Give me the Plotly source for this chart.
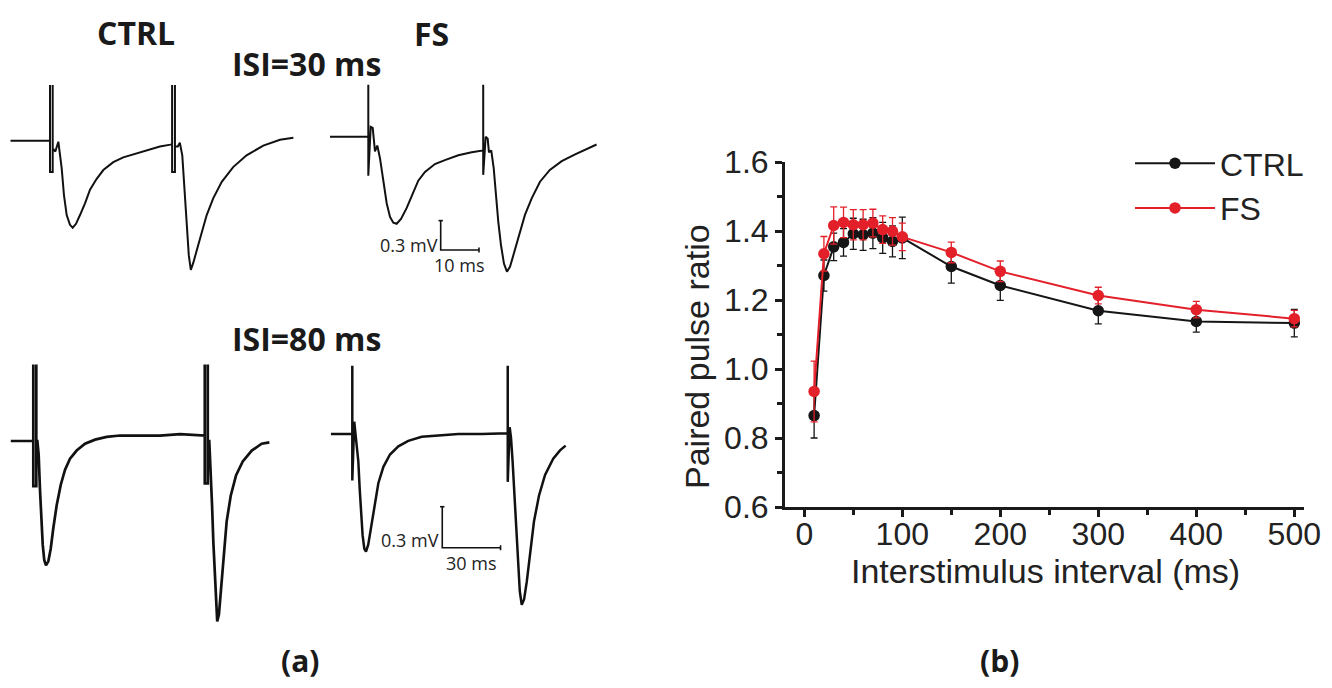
import plotly.graph_objects as go

W, H = 1332, 688

# ---------------- Panel (b): paired-pulse ratio ----------------
isi_ms = [10, 20, 30, 40, 50, 60, 70, 80, 90, 100, 150, 200, 300, 400, 500]
ppr_ctrl = [0.865, 1.271, 1.354, 1.367, 1.392, 1.389, 1.394, 1.380, 1.370, 1.380, 1.297, 1.242, 1.169, 1.138, 1.133]
ppr_ctrl_err = [0.065, 0.045, 0.040, 0.040, 0.045, 0.045, 0.045, 0.045, 0.045, 0.060, 0.048, 0.043, 0.038, 0.031, 0.040]
ppr_fs = [0.935, 1.334, 1.416, 1.425, 1.418, 1.418, 1.423, 1.404, 1.399, 1.383, 1.338, 1.283, 1.213, 1.172, 1.146]
ppr_fs_err = [0.088, 0.050, 0.054, 0.044, 0.044, 0.044, 0.040, 0.040, 0.040, 0.040, 0.030, 0.030, 0.024, 0.024, 0.024]
x_title = "Interstimulus interval (ms)"
y_title = "Paired pulse ratio"

# ---------------- Panel (a): example traces (ms from 1st stimulus, mV from baseline) ----------------
ctrl30_t = [-9.7, -0.4, 0.0, 0.0, 0.0, 0.66, 0.66, 0.66, 1.31, 2.05, 2.87, 3.44, 4.10, 4.91, 5.57, 6.39, 7.37, 8.60,
            9.83, 11.47, 13.10, 15.55, 18.0, 20.5, 23.8, 27.0, 29.6, 30.0, 30.0, 30.0, 30.7, 30.7, 30.7, 31.4, 31.9,
            32.5, 33.0, 33.6, 34.1, 34.6, 35.2, 36.2, 37.3, 38.5, 40.1, 42.2, 45.0, 48.3, 52.4, 56.5, 59.8]
ctrl30_v = [0.0, 0.0, 0.0, 0.57, -0.32, -0.32, 0.57, -0.08, -0.11, -0.01, -0.28, -0.56, -0.76, -0.86, -0.89, -0.85,
            -0.76, -0.64, -0.50, -0.39, -0.30, -0.22, -0.17, -0.14, -0.10, -0.06, -0.04, -0.035, 0.57, -0.32, -0.32,
            0.57, -0.06, -0.06, -0.02, -0.15, -0.45, -0.86, -1.17, -1.32, -1.25, -1.10, -0.93, -0.76, -0.59, -0.42,
            -0.27, -0.15, -0.05, 0.01, 0.03]

fs30_t = [-10.0, -0.1, 0.0, 0.0, 0.0, 0.63, 1.15, 1.75, 2.35, 3.05, 3.92, 4.8, 5.67, 6.53, 7.4, 8.54, 10.0, 11.49,
          13.05, 14.8, 17.4, 20.0, 23.5, 27.0, 29.8, 30.0, 30.0, 30.0, 30.65, 31.17, 31.5, 32.1, 32.74, 33.34, 33.94,
          34.65, 35.43, 36.2, 37.0, 38.04, 39.35, 40.9, 42.66, 44.83, 47.4, 50.5, 54.0, 57.0, 59.6]
fs30_v = [0.0, 0.0, 0.0, 0.53, -0.40, 0.10, 0.09, -0.15, -0.09, -0.22, -0.46, -0.68, -0.82, -0.88, -0.89, -0.84,
          -0.73, -0.59, -0.45, -0.36, -0.28, -0.24, -0.19, -0.16, -0.14, -0.14, 0.53, -0.39, 0.0, -0.02, -0.16,
          -0.14, -0.32, -0.60, -0.87, -1.11, -1.30, -1.38, -1.33, -1.19, -1.01, -0.80, -0.63, -0.46, -0.34, -0.25,
          -0.18, -0.13, -0.08]

ctrl80_t = [-10.5, -0.5, 0.0, 0.0, 0.0, 1.4, 1.4, 1.4, 1.9, 2.5, 3.1, 3.7, 4.4, 5.1, 5.9, 7.0, 8.1, 9.3, 10.9, 12.8,
            14.8, 17.1, 20.2, 24.1, 28.8, 34.2, 40.4, 49.7, 59.0, 68.4, 79.5, 79.9, 79.9, 79.9, 81.3, 81.3, 81.3,
            82.0, 82.7, 83.3, 83.9, 84.5, 85.1, 85.7, 86.5, 87.5, 88.5, 90.1, 92.0, 94.5, 97.6, 101.8, 106.4, 110.0]
ctrl80_v = [0.0, 0.0, 0.0, 0.56, -0.33, -0.33, 0.56, 0.0, 0.0, -0.10, -0.35, -0.59, -0.76, -0.87, -0.91, -0.88,
            -0.79, -0.64, -0.47, -0.32, -0.21, -0.13, -0.07, -0.02, 0.01, 0.03, 0.04, 0.04, 0.04, 0.05, 0.04, 0.04,
            0.56, -0.31, -0.31, 0.56, 0.0, 0.0, -0.22, -0.47, -0.74, -0.98, -1.20, -1.32, -1.27, -1.08, -0.83,
            -0.59, -0.40, -0.25, -0.15, -0.07, -0.02, -0.01]

fs80_t = [-11.0, -0.1, 0.0, 0.0, 0.0, 1.0, 2.25, 3.1, 3.8, 4.5, 5.3, 6.2, 7.05, 8.2, 9.6, 11.3, 13.4, 16.0, 19.4,
          23.7, 28.8, 35.7, 44.3, 54.6, 66.6, 79.5, 80.0, 80.0, 80.0, 81.0, 81.7, 82.5, 83.4, 84.25, 85.1, 86.2,
          87.2, 88.4, 89.8, 91.5, 93.5, 96.1, 99.2, 103.4, 106.9, 109.8]
fs80_v = [0.0, 0.0, 0.0, 0.5, -0.34, 0.09, -0.06, -0.20, -0.40, -0.57, -0.74, -0.84, -0.86, -0.81, -0.69, -0.52,
          -0.36, -0.24, -0.15, -0.09, -0.05, -0.02, -0.01, 0.0, 0.0, 0.005, 0.005, 0.5, -0.35, 0.05, -0.03, -0.20,
          -0.45, -0.69, -0.93, -1.15, -1.25, -1.21, -1.08, -0.86, -0.64, -0.45, -0.30, -0.18, -0.12, -0.085]

# scale bars: [time of vertical bar (ms), voltage of corner (mV), length in ms, length in mV]
scalebar30 = [18.9, -1.158, 10, 0.3]
scalebar80 = [46.3, -0.832, 30, 0.3]
scalebar30_labels = ["0.3 mV", "10 ms"]
scalebar80_labels = ["0.3 mV", "30 ms"]

TRACE_COLOR = "#111111"
RED = "#e3202a"
BLACK = "#151515"

fig = go.Figure()

# ---- panel (b) series ----
fig.add_trace(go.Scatter(
    x=isi_ms, y=ppr_ctrl, name="CTRL", mode="lines+markers",
    line=dict(color=BLACK, width=2), marker=dict(color=BLACK, size=11.5),
    error_y=dict(type="data", array=ppr_ctrl_err, color=BLACK, thickness=1.3, width=3.5),
    xaxis="x", yaxis="y"))
fig.add_trace(go.Scatter(
    x=isi_ms, y=ppr_fs, name="FS", mode="lines+markers",
    line=dict(color=RED, width=2), marker=dict(color=RED, size=11.5),
    error_y=dict(type="data", array=ppr_fs_err, color=RED, thickness=1.3, width=3.5),
    xaxis="x", yaxis="y"))

# ---- panel (a) traces on hidden axes ----
traces_a = [
    (ctrl30_t, ctrl30_v, "2", 2.0),
    (fs30_t, fs30_v, "3", 2.0),
    (ctrl80_t, ctrl80_v, "4", 2.7),
    (fs80_t, fs80_v, "5", 2.5),
]
for t, v, ax, lw in traces_a:
    fig.add_trace(go.Scatter(x=t, y=v, mode="lines", showlegend=False, hoverinfo="skip",
                             line=dict(color=TRACE_COLOR, width=lw),
                             xaxis="x" + ax, yaxis="y" + ax))

# pixel calibration of each trace panel: (box x0, x1, y0, y1, px of t=0, px per ms, py of v=0, px per mV)
calib = {
    "2": (0, 320, 70, 290, 50.0, 4.07, 140.7, 97.8),
    "3": (320, 660, 70, 290, 368.3, 3.83, 136.7, 97.8),
    "4": (0, 320, 355, 640, 33.3, 2.146, 441.0, 136.7),
    "5": (320, 660, 355, 640, 352.3, 1.943, 434.0, 136.7),
}
layout_axes = {}
for ax, (x0, x1, y0, y1, t0, ppms, v0, ppmv) in calib.items():
    layout_axes["xaxis" + ax] = dict(domain=[x0 / W, x1 / W], range=[(x0 - t0) / ppms, (x1 - t0) / ppms],
                                     visible=False, fixedrange=True, anchor="y" + ax, automargin=False)
    layout_axes["yaxis" + ax] = dict(domain=[1 - y1 / H, 1 - y0 / H],
                                     range=[-(y1 - v0) / ppmv, -(y0 - v0) / ppmv],
                                     visible=False, fixedrange=True, anchor="x" + ax, automargin=False)

annotations = []
# scale bars
for ax, sb, labels in (("3", scalebar30, scalebar30_labels), ("5", scalebar80, scalebar80_labels)):
    t0, vb, dt, dv = sb
    ppms, ppmv = calib[ax][5], calib[ax][7]
    cap_t = 2.2 / ppms
    cap_v = 2.5 / ppmv
    xs = [t0 - cap_t, t0 + cap_t, None, t0, t0, t0 + dt, None, t0 + dt, t0 + dt]
    ys = [vb + dv, vb + dv, None, vb + dv, vb, vb, None, vb - cap_v, vb + cap_v]
    fig.add_trace(go.Scatter(x=xs, y=ys, mode="lines", showlegend=False, hoverinfo="skip",
                             line=dict(color=TRACE_COLOR, width=1.6),
                             xaxis="x" + ax, yaxis="y" + ax))
    annotations.append(dict(x=t0, y=vb + dv * 0.18, xref="x" + ax, yref="y" + ax, text=labels[0],
                            showarrow=False, xanchor="right", yanchor="middle", xshift=-1,
                            font=dict(family="Open Sans", size=18, color="#222")))
    annotations.append(dict(x=t0 + dt / 2, y=vb, xref="x" + ax, yref="y" + ax, text=labels[1],
                            showarrow=False, xanchor="center", yanchor="top", yshift=-1,
                            font=dict(family="Open Sans", size=18, color="#222")))

# panel (a) headings
for text, px, py, size in (("<b>CTRL</b>", 136, 33, 32), ("<b>FS</b>", 431, 34, 32),
                           ("<b>ISI=30 ms</b>", 306, 64, 32), ("<b>ISI=80 ms</b>", 306, 338, 32),
                           ("<b>(a)</b>", 300, 660, 30), ("<b>(b)</b>", 1000, 660, 30)):
    annotations.append(dict(x=px / W, y=1 - py / H, xref="paper", yref="paper", text=text, showarrow=False,
                            xanchor="center", yanchor="middle",
                            font=dict(family="Open Sans", size=size, color="#1a1a1a")))

axfont = dict(family="Arial, Liberation Sans", size=32, color="#222")
titlefont = dict(family="Arial, Liberation Sans", size=34, color="#222")
# axis titles of panel (b)
annotations.append(dict(x=1045 / W, y=1 - 571 / H, xref="paper", yref="paper", text=x_title, showarrow=False,
                        xanchor="center", yanchor="middle", font=titlefont))
annotations.append(dict(x=697 / W, y=1 - 356 / H, xref="paper", yref="paper", text=y_title, showarrow=False,
                        xanchor="center", yanchor="middle", textangle=-90, font=titlefont))

fig.update_layout(
    width=W, height=H, margin=dict(l=0, r=0, t=0, b=0, pad=0, autoexpand=False),
    paper_bgcolor="white", plot_bgcolor="white",
    showlegend=True,
    legend=dict(x=1130 / W, y=1 - 136 / H, xanchor="left", yanchor="top", bgcolor="rgba(0,0,0,0)",
                font=dict(family="Arial, Liberation Sans", size=32, color="#222"), itemwidth=80,
                tracegroupgap=0),
    xaxis=dict(domain=[785 / W, 1304 / W], range=[-19.7, 509.9], anchor="y", automargin=False,
               showline=True, linewidth=3, linecolor="#1a1a1a", showgrid=False, zeroline=False,
               ticks="outside", ticklen=7, tickwidth=3, tickcolor="#1a1a1a", dtick=100, tick0=0,
               minor=dict(ticks="outside", ticklen=5, tickwidth=3, tickcolor="#1a1a1a", dtick=50, tick0=0),
               tickfont=axfont, ticklabelstandoff=-10, fixedrange=True),
    yaxis=dict(domain=[1 - 507 / H, 1 - 162 / H], range=[0.6, 1.6], anchor="x", automargin=False,
               showline=True, linewidth=3, linecolor="#1a1a1a", showgrid=False, zeroline=False,
               ticks="outside", ticklen=7, tickwidth=3, tickcolor="#1a1a1a", dtick=0.2, tick0=0.6,
               tickformat=".1f",
               minor=dict(ticks="outside", ticklen=5, tickwidth=3, tickcolor="#1a1a1a", dtick=0.1, tick0=0.6),
               tickfont=axfont, fixedrange=True),
    annotations=annotations,
    **layout_axes,
)

fig.write_html("out.html")
